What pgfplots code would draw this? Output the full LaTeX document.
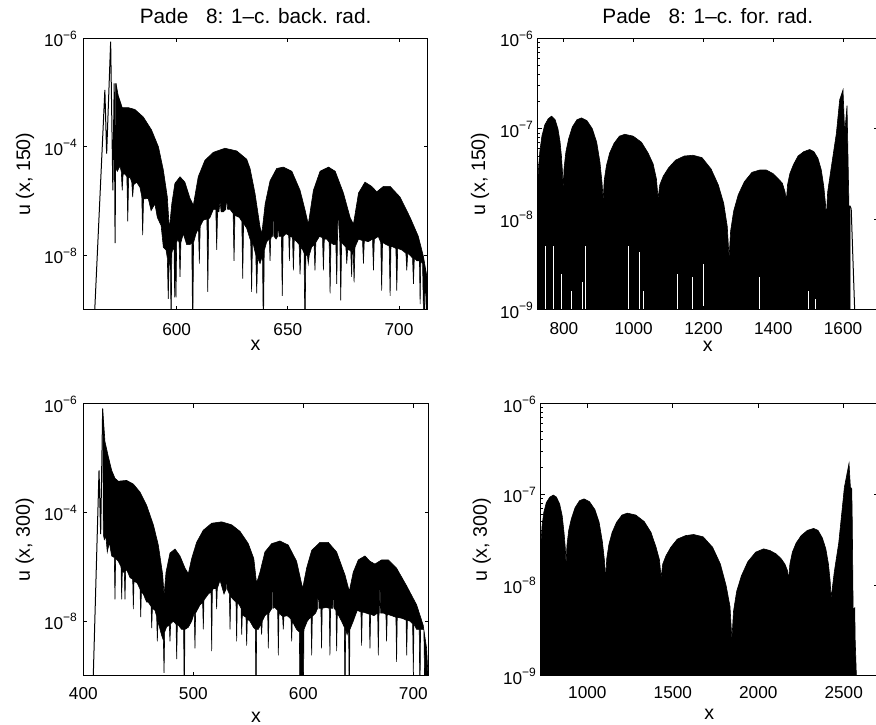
\documentclass[border=0pt]{standalone}
\usepackage{fontspec}
\setmainfont{Liberation Sans}
\usepackage{pgfplots}
\pgfplotsset{compat=1.18}
\newcommand{\fs}{\fontsize{8.6}{10}\selectfont}
\newcommand{\fl}{\fontsize{9.8}{11.5}\selectfont}
\newcommand{\ft}{\fontsize{10.4}{12}\selectfont}
\newcommand{\tpow}[1]{10\textsuperscript{−#1}}
\pgfplotsset{
  every axis/.append style={
    scale only axis, anchor=south west, axis on top,
    tick align=inside, xtick pos=both, ytick pos=both,
    major tick length=2pt, minor tick length=1pt,
    every tick/.style={black, line width=0.4pt},
    axis line style={line width=0.5pt},
    tick label style={font=\fs, inner sep=0pt},
    yticklabel style={anchor=base east, xshift=-2.5pt, yshift=-4.2pt},
    every axis title/.style={at={(0.5,1)}, anchor=base, yshift=7.5pt, font=\ft},
    xlabel={x},
  },
}
\tikzset{
  sig/.style={draw=black, fill=black, line width=0.3pt},
  thinline/.style={black, line width=0.5pt},
}
\begin{document}
\begin{tikzpicture}
\useasboundingbox (0,0) rectangle (438pt,362pt);

% ---------------- top left ----------------
\begin{axis}[ymode=log, at={(41.65pt,207.2pt)}, width=172.3pt, height=135.6pt,
  ymin=1e-10, ymax=1, ytick={1e-8,1e-4,1}, yticklabels={\tpow{8},\tpow{4},\tpow{6}},
  xmin=558, xmax=713, xtick={600,650,700}, xticklabels={600,650,700},
  xticklabel style={anchor=base, yshift=-12.8pt},
  title={Pade\hspace{0.85em}8: 1–c. back. rad.}, ylabel={u (x, 150)},
  every axis y label/.style={at={(axis description cs:-0.169,0.5)}, rotate=90, anchor=center, font=\fl},
  every axis x label/.style={at={(axis description cs:0.5,0)}, anchor=base, yshift=-20.4pt, font=\fl}]
\addplot[thinline] coordinates {(562.6,1e-11) (567.7,1.26e-2) (568.5,5.6e-5) (570.3,0.76) (571.3,2.5e-6) (571.9,2.2e-2) (572.3,2.8e-8) (572.7,2.2e-2)};
\addplot[sig] coordinates {
(572.7,2.2e-2) (573.7,7.9e-3) (574.5,5.0e-3) (575.5,2.8e-3) (578.2,2.8e-3) (581.2,2.4e-3) (585.0,1.26e-3) (588.7,4.2e-4) (591.8,1e-4) (594.0,1.4e-5) (595.8,1.4e-6) (596.7,8.9e-8) (597.8,7.9e-7) (599.2,4.5e-6) (601.5,7.9e-6) (603.7,5.0e-6) (606.0,1.26e-6) (607.5,7.1e-7) (609.7,7.9e-6) (612.7,3.2e-5) (616.5,6.3e-5) (621.7,8.9e-5) (627.0,7.1e-5) (631.5,3.5e-5) (633.0,1.6e-5) (635.2,2.0e-6) (637.5,1.1e-7) (638.3,6.3e-8) (639.8,7.9e-7) (642.0,5.6e-6) (645.0,1.6e-5) (648.0,1.8e-5) (651.8,1.26e-5) (655.5,2.5e-6) (657.8,4.5e-7) (659.2,1.4e-7) (661.5,2.5e-6) (664.5,1.26e-5) (668.3,1.8e-5) (671.3,1.26e-5) (675.0,2.0e-6) (678.0,2.5e-7) (679.5,1.4e-7) (681.8,2.0e-6) (684.7,5.0e-6) (687.7,3.5e-6) (690.0,2.2e-6) (693.0,3.5e-6) (696.0,3.5e-6) (700.5,1.4e-6) (705.0,2.5e-7) (708.7,5.0e-8) (711.0,8.9e-9) (712.8,1.26e-9) (713.5,3e-11)
(713,1e-11) (712.5,1e-11) (711.8,3.2e-9) (711.2,1e-11) (710.6,5e-9) (709.8,6.3e-9) (709.5,1.6e-10) (709.2,6.3e-9) (708,6.3e-9)
(706.9,8e-9) (706.5,8.9e-10) (706.1,8e-9) (705,1e-8) (703.9,1.2e-8) (703.5,2.8e-9) (703.1,1.2e-8) (701.2,1.6e-8)
(699.4,1.8e-8) (699,5e-10) (698.6,1.8e-8) (697.5,2e-8) (696.4,2.2e-8) (696,3.2e-10) (695.6,2.2e-8) (694.2,2.5e-8)
(692.6,3e-8) (692.2,5e-10) (691.8,3e-8) (690.7,5e-8) (688.9,4e-8) (688.5,2.8e-9) (688.1,4e-8) (686.2,3.2e-8)
(684.4,3.5e-8) (684,5e-9) (683.6,3.5e-8) (681.8,4e-8) (680.2,2e-8) (679.8,1e-9) (679.4,1.5e-8) (679.0,1.5e-8) (678.7,1.6e-9) (678.3,1.5e-8)
(677.2,1.6e-8) (676.9,1.6e-8) (676.5,5e-9) (676.1,2e-8) (675,2.5e-8) (674.2,3e-8) (673.8,2.2e-10) (673.4,3e-8)
(673.0,1e-7) (672.7,1.26e-6) (672.4,1e-7) (672,8.9e-10) (671.6,2.5e-8) (670.5,2.5e-8)
(669.4,3e-8) (669,4e-10) (668.6,3e-8) (667.5,4e-8) (666.4,4e-8) (666,2.8e-9) (665.6,4.5e-8) (664.2,5e-8)
(662.6,3e-8) (662.2,2.8e-9) (661.8,2.5e-8) (660.7,2e-8) (659.6,1e-8) (659.2,5e-9) (658.8,1e-8) (658.1,1e-8) (657.7,1e-11) (657.3,1.2e-8)
(656.7,1.6e-8) (655.9,2e-8) (655.5,2e-9) (655.1,2.5e-8) (654,3.2e-8) (652.9,4e-8) (652.5,2.8e-9) (652.1,4.5e-8)
(651.3,5e-8) (651.0,5e-8) (650.7,6.3e-9) (650.4,5.5e-8) (649.2,6.3e-8) (647.9,5e-8) (647.5,3.2e-10) (647.1,5e-8)
(646.0,5e-8) (645.7,4e-7) (645.4,5e-8) (644.7,4e-8) (643.8,5e-8) (643.5,2e-6) (643.2,5e-8) (642.7,5e-8)
(642.3,4e-8) (642,6.3e-9) (641.7,4e-8) (640.5,3.2e-8) (639.4,1.5e-8) (639,1e-11) (638.6,1e-8) (637.5,5e-9)
(636.4,8e-9) (636,4e-10) (635.6,1e-8) (634.5,2.5e-8) (634.1,3e-8) (633.7,4.5e-10) (633.3,3.5e-8) (633,4e-8)
(631.5,1e-7) (630.1,1.5e-7) (629.7,1.4e-9) (629.3,1.8e-7) (628.2,2.5e-7) (626.2,3e-7) (625.8,6.3e-9) (625.4,3.5e-7)
(624,5e-7) (622.9,5e-7) (622.5,1.6e-6) (622.1,5e-7) (621,4e-7) (620,4e-7) (619.5,1e-6) (619,4e-7)
(618.4,4e-7) (618,1.6e-8) (617.6,5e-7) (616.5,5e-7) (615,2.5e-7) (614.4,2.2e-7) (614,4.5e-10) (613.6,2.2e-7)
(612,2e-7) (610.6,1.2e-7) (610.2,5e-9) (609.8,1e-7) (608.7,6.3e-8) (607.6,3e-8) (607.2,1e-11) (606.8,3e-8)
(606,2.5e-8) (604.5,2.5e-8) (603,6.3e-8) (601.9,3e-8) (601.5,1.6e-9) (601.1,3e-8) (600.5,4e-8)
(600.0,3e-8) (599.7,2.8e-10) (599.4,2.5e-8) (599.1,2.8e-10) (598.8,2e-8) (598.2,1.6e-8) (597.8,1.2e-8) (597.5,1e-11) (597.2,8e-9)
(596.6,4e-9) (596.2,2.5e-10) (595.8,8e-9) (595.2,1.6e-8) (594,2e-8) (593,1.26e-7) (591.3,2.5e-7) (590.2,7.9e-7)
(588.5,4.5e-7) (587.2,1.26e-6) (585.1,1.2e-6) (584.7,5.6e-8) (584.3,1.5e-6) (583.5,3.2e-6) (582,5e-6)
(580.6,4e-6) (580.2,1.4e-6) (579.8,5e-6) (579,7.9e-6) (578.4,7e-6) (578,1.8e-7) (577.6,8e-6)
(576.7,1e-5) (575.9,1e-5) (575.5,2.5e-6) (575.1,1.2e-5) (574.5,2e-5) (573.3,1.26e-5) (572.7,1.6e-5)
} -- cycle;
\end{axis}

% ---------------- top right ----------------
\begin{axis}[ymode=log, at={(268.85pt,207.2pt)}, width=170.1pt, height=135.6pt,
  ymin=1e-9, ymax=1e-6, ytick={1e-9,1e-8,1e-7,1e-6},
  yticklabels={\tpow{9},\tpow{8},\tpow{7},\tpow{6}},
  minor ytick={2e-9,3e-9,4e-9,5e-9,6e-9,7e-9,8e-9,9e-9,2e-8,3e-8,4e-8,5e-8,6e-8,7e-8,8e-8,9e-8,2e-7,3e-7,4e-7,5e-7,6e-7,7e-7,8e-7,9e-7},
  yticklabel style={xshift=0.8pt},
  xmin=725, xmax=1700, xtick={800,1000,1200,1400,1600}, xticklabels={800,1000,1200,1400,1600},
  xticklabel style={anchor=base, yshift=-12.5pt},
  title={Pade\hspace{0.85em}8: 1–c. for. rad.}, ylabel={u (x, 150)},
  every axis y label/.style={at={(axis description cs:-0.1696,0.5)}, rotate=90, anchor=center, font=\fl},
  every axis x label/.style={at={(axis description cs:0.5,0)}, anchor=base, yshift=-20.8pt, font=\fl}]
\addplot[sig] coordinates {
(725,1e-11) (725,2.2e-8) (727,3.5e-8) (731,5.6e-8) (737,8.3e-8) (745,1.1e-7) (755,1.29e-7) (764.7,1.38e-7) (775,1.26e-7) (783,1e-7) (789,7.2e-8) (793,5.0e-8) (796,3.3e-8) (798,2.1e-8) (800.6,3.7e-8) (805.9,5.6e-8) (813.8,7.8e-8) (824.3,1.05e-7) (837.4,1.26e-7) (850.6,1.32e-7) (866.1,1.23e-7) (881.6,1e-7) (894,7.1e-8) (903.3,4.3e-8) (909.5,2.5e-8) (912.6,1.6e-8) (915.7,2.7e-8) (921.9,3.9e-8) (931.2,5.4e-8) (943.7,6.9e-8) (959.2,8.3e-8) (974.7,8.7e-8) (998.5,8.3e-8) (1022.4,7.1e-8) (1041.4,5.4e-8) (1055.7,4.1e-8) (1065.2,2.8e-8) (1070,1.7e-8) (1075,2.4e-8) (1085,3.0e-8) (1100,3.7e-8) (1120,4.5e-8) (1145,5.0e-8) (1170,5.1e-8) (1195.9,4.8e-8) (1221.8,3.6e-8) (1242.5,2.4e-8) (1258,1.5e-8) (1268.3,8.3e-9) (1273.5,3.7e-9) (1277.9,7.4e-9) (1286.6,1.23e-8) (1299.7,1.86e-8) (1317.3,2.6e-8) (1339.1,3.3e-8) (1361,3.5e-8) (1380.2,3.5e-8) (1399.4,3.2e-8) (1414.7,2.8e-8) (1426.2,2.5e-8) (1433.9,2.0e-8) (1437.7,1.6e-8) (1441,2.4e-8) (1447.7,3.2e-8) (1457.7,4.0e-8) (1471.1,5.0e-8) (1487.8,5.6e-8) (1504.5,5.9e-8) (1516.4,5.6e-8) (1528.3,4.7e-8) (1537.8,3.5e-8) (1544.9,2.3e-8) (1549.6,1.5e-8) (1552,1e-8) (1556,2e-8) (1566.6,3.8e-8) (1581,8.9e-8) (1590.5,2.1e-7) (1600,2.7e-7) (1604.8,8.9e-8) (1611.5,1.8e-7) (1617,1.4e-8) (1620,1.4e-8) (1621,1e-11)
} -- cycle;
\addplot[thinline] coordinates {(1620,1.4e-8) (1623.5,1.3e-8) (1633.4,1e-9) (1636,1e-11)};
\addplot[white, line width=0.5pt, unbounded coords=jump] coordinates {
(747.5,1e-11) (747.5,5.0e-9) (748,nan) (769.5,1e-11) (769.5,5.0e-9) (770,nan) (793,1e-11) (793,2.5e-9) (794,nan) (822,1e-11) (822,1.6e-9) (823,nan) (852.5,1e-11) (852.5,2.0e-9) (853,nan) (862,1e-11) (862,5.0e-9) (863,nan) (986,1e-11) (986,5.0e-9) (987,nan) (1017.7,1e-11) (1017.7,4.3e-9) (1018,nan) (1029,1e-11) (1029,1.6e-9) (1030,nan) (1125.5,1e-11) (1125.5,2.5e-9) (1126,nan) (1170,1e-11) (1170,2.3e-9) (1171,nan) (1199,1e-11) (1199,3.2e-9) (1200,nan) (1361,1e-11) (1361,2.3e-9) (1362,nan) (1499.8,1e-11) (1499.8,1.6e-9) (1500,nan) (1521.7,1e-11) (1521.7,1.3e-9)
};
\end{axis}

% ---------------- bottom left ----------------
\begin{axis}[ymode=log, at={(41.65pt,24.2pt)}, width=172.7pt, height=136pt,
  ymin=1e-10, ymax=1, ytick={1e-8,1e-4,1}, yticklabels={\tpow{8},\tpow{4},\tpow{6}},
  xmin=400, xmax=714, xtick={400,500,600,700}, xticklabels={400,500,600,700},
  xticklabel style={anchor=base, yshift=-11.7pt},
  ylabel={u (x, 300)},
  every axis y label/.style={at={(axis description cs:-0.169,0.5)}, rotate=90, anchor=center, font=\fl},
  every axis x label/.style={at={(axis description cs:0.5,0)}, anchor=base, yshift=-23.2pt, font=\fl}]
\addplot[thinline] coordinates {(408.4,1e-11) (414.3,3.5e-3) (415.8,1.6e-5) (417.6,0.66)};
\addplot[sig] coordinates {
(417.6,0.66) (419.7,4.0e-2) (422.8,1.1e-2) (425.8,3.5e-3) (428.8,1.8e-3) (431.8,1.4e-3) (439.4,1.5e-3) (445.5,1.1e-3) (451.5,5.6e-4) (457.6,1.8e-4) (463.7,3.5e-5) (468.2,6.3e-6) (472.2,5.0e-7) (473.4,8.9e-8) (475.2,6.3e-7) (478.8,3.2e-6) (483.4,4.5e-6) (487.9,2.5e-6) (492.5,8.9e-7) (495.5,5.6e-7) (498.5,2.0e-6) (503,7.9e-6) (509,2.2e-5) (516.7,4.0e-5) (525.8,4.5e-5) (534.9,3.5e-5) (542.5,2.0e-5) (550,7.1e-6) (555,2.0e-6) (557.5,2.5e-7) (560.6,6.3e-7) (565.1,3.5e-6) (571.2,7.1e-6) (578.8,8.9e-6) (586.3,6.3e-6) (593.9,1.6e-6) (599.4,1.6e-7) (603,8.9e-7) (607.6,4.0e-6) (615.1,7.9e-6) (622.7,7.9e-6) (630.3,3.5e-6) (637.9,5.0e-7) (641.8,1.26e-7) (645.4,6.3e-7) (650,1.8e-6) (656,2.5e-6) (660.6,1.6e-6) (665.1,1.26e-6) (671.2,1.8e-6) (677.3,1.8e-6) (684.8,8.9e-7) (693.9,2.0e-7) (703,4.0e-8) (709,7.1e-9) (712.1,1e-9) (714,3e-11)
(714,1e-11) (712.1,1e-11) (710.6,1e-11) (709.6,5e-9)
(708.5,5e-9) (706.6,5e-9) (706,1e-11) (705.4,5e-9) (703,5e-9)
(700.6,8e-9) (700,1.26e-10) (699.4,8e-9) (697,1e-8)
(694.6,1.1e-8) (694,5.6e-10) (693.4,1.1e-8) (690.3,1.26e-8)
(685.4,1.4e-8) (684.8,3.2e-10) (684.2,1.4e-8) (680.3,1.6e-8)
(676.3,1.8e-8) (675.7,1.8e-9) (675.1,1.8e-8) (672.7,2e-8)
(670.3,2e-8) (669.7,4e-7) (669.1,2e-8) (668.8,2e-8) (668.2,5.6e-10) (667.6,2e-8) (664.2,1.6e-8)
(661.2,1.8e-8) (660.6,1e-9) (660,1.8e-8) (657,2e-8)
(653.6,2.2e-8) (653,1.26e-9) (652.4,2.2e-8) (649,2.5e-8) (645.4,1e-8)
(642.4,5e-9) (641.8,1e-11) (641.2,5e-9) (639.8,3.2e-9) (638.5,5e-9) (637.9,1e-11) (637.3,6e-9) (634.8,1e-8)
(630.9,2e-8) (630.3,7.9e-10) (629.7,2.5e-8) (627.9,3e-8) (627.3,3.2e-7) (626.7,3e-8) (624.8,3e-8) (624.2,5.6e-10) (623.6,3e-8) (620.6,3.2e-8)
(617.2,3e-8) (616.6,1e-9) (616,3e-8) (614.2,3e-8) (613.6,1.26e-6) (613,3e-8) (611.2,2e-8)
(608.2,1.5e-8) (607.6,5.6e-10) (607,1.5e-8) (603.6,1e-8) (600.6,5e-9) (600,1e-11) (597,1e-11) (596.4,4e-9) (593.9,5e-9)
(590,1e-8) (589.4,1.8e-9) (588.8,1.2e-8) (585.4,1.6e-8) (582.4,1.5e-8) (581.8,5e-9) (581.2,1.5e-8)
(577.9,2e-8) (577.3,5.6e-10) (576.7,2.5e-8) (574.2,3.2e-8) (572.7,3e-8) (572.1,1.6e-6) (571.5,3e-8) (570.3,2.5e-8)
(568.8,2e-8) (568.2,1e-9) (567.6,2e-8) (565.1,1.6e-8) (562.7,1e-8) (562.1,3.2e-9) (561.5,8e-9) (559.1,5e-9) (557.6,5e-9) (557,1e-11) (556.4,5e-9) (554.6,6e-9)
(551.5,1e-8) (549.1,1.2e-8) (548.5,1.26e-9) (547.9,1.4e-8) (545.5,1.6e-8) (544.6,2e-8) (544,3.2e-9) (543.4,3e-8) (541.8,4e-8) (540,5e-8) (539.4,1.8e-9) (538.8,5e-8) (536.4,6.3e-8)
(534,8e-8) (533.4,5e-9) (532.8,1e-7) (530.9,1.5e-7) (530.3,5e-7) (529.7,1.5e-7) (527.9,1e-7) (524.3,3.2e-7)
(521.8,1.6e-7) (521.2,2.8e-8) (520.6,1.6e-7) (518.2,1.6e-7) (517.3,1.3e-7) (516.7,7.9e-10) (516.1,1.2e-7) (513.7,1e-7)
(509.7,6e-8) (509.1,5e-9) (508.5,5e-8) (506.1,4e-8) (502.1,2e-8) (501.5,1e-9) (500.9,2e-8) (498.5,1e-8) (495.5,6e-9)
(492.4,5e-9) (491.8,1e-11) (491.2,5e-9) (489.4,5e-9) (485.5,8e-9) (484.9,4e-10) (484.3,8e-9) (481.8,1e-8)
(479.4,8e-9) (478.8,1.8e-9) (478.2,7e-9) (475.8,6.3e-9) (474,4e-9) (473.4,1.26e-10) (472.8,2e-9) (471.2,3e-9)
(467.9,1e-8) (467.3,1.8e-9) (466.7,1.5e-8) (465.2,2.5e-8) (462.8,3e-8) (462.2,5.6e-9) (461.6,3.5e-8) (459.1,5e-8) (457.6,5e-8) (454.6,1e-7)
(452.8,1.2e-7) (452.2,1.4e-8) (451.6,1.5e-7) (449.1,2.5e-7) (446.1,3e-7) (445.5,2.8e-8) (444.9,3.5e-7) (442.5,4e-7) (439.4,7.9e-7)
(438.5,7e-7) (437.9,6.3e-8) (437.3,6.5e-7) (436.4,6.3e-7) (435.5,8e-7) (434.9,6.3e-8) (434.3,1e-6) (431.8,1.6e-6)
(429.4,2e-6) (428.8,6.3e-8) (428.2,2.2e-6) (425.8,2.5e-6) (423.7,7.9e-6) (421.8,3.5e-6) (420.6,1.26e-5) (419.1,1e-5) (418.2,1.6e-5)
} -- cycle;
\end{axis}

% ---------------- bottom right ----------------
\begin{axis}[ymode=log, at={(270.35pt,24.2pt)}, width=168.6pt, height=136pt,
  ymin=1e-9, ymax=1e-6, ytick={1e-9,1e-8,1e-7,1e-6},
  yticklabels={\tpow{9},\tpow{8},\tpow{7},\tpow{6}},
  minor ytick={2e-9,3e-9,4e-9,5e-9,6e-9,7e-9,8e-9,9e-9,2e-8,3e-8,4e-8,5e-8,6e-8,7e-8,8e-8,9e-8,2e-7,3e-7,4e-7,5e-7,6e-7,7e-7,8e-7,9e-7},
  yticklabel style={xshift=0.8pt},
  xmin=727, xmax=2700, xtick={1000,1500,2000,2500}, xticklabels={1000,1500,2000,2500},
  xticklabel style={anchor=base, yshift=-11.2pt},
  ylabel={u (x, 300)},
  every axis y label/.style={at={(axis description cs:-0.175,0.5)}, rotate=90, anchor=center, font=\fl},
  every axis x label/.style={at={(axis description cs:0.5,0)}, anchor=base, yshift=-22pt, font=\fl}]
\addplot[sig] coordinates {
(725,1e-11) (725,1.9e-8) (728,2.8e-8) (735,4.5e-8) (745,6.3e-8) (760,8.1e-8) (780,9.3e-8) (800.8,9.8e-8) (819.3,9.3e-8) (837.9,7.8e-8) (852.7,5.8e-8) (863.9,3.7e-8) (871.3,2.5e-8) (875,1.6e-8) (880.3,2.7e-8) (890.8,4.0e-8) (906.6,5.4e-8) (927.8,7.1e-8) (954.1,8.5e-8) (980.5,8.9e-8) (1012.1,8.3e-8) (1043.8,6.8e-8) (1068.9,4.9e-8) (1087.9,3.0e-8) (1100.7,1.8e-8) (1107,1.15e-8) (1113.4,1.95e-8) (1126,2.8e-8) (1145,3.8e-8) (1170.5,4.9e-8) (1202.3,5.9e-8) (1234,6.2e-8) (1283.4,5.9e-8) (1332.8,5.0e-8) (1372.3,3.8e-8) (1402,2.6e-8) (1421.7,1.9e-8) (1431.6,1.2e-8) (1441,1.7e-8) (1460,2.1e-8) (1488,2.6e-8) (1526,3.2e-8) (1574,3.5e-8) (1621,3.6e-8) (1677,3.4e-8) (1733,2.6e-8) (1778.3,1.7e-8) (1812,9.8e-9) (1834.5,5.8e-9) (1845.7,2.5e-9) (1855,5.1e-9) (1873.5,8.5e-9) (1901.3,1.26e-8) (1938.4,1.8e-8) (1984.7,2.3e-8) (2031,2.5e-8) (2067.7,2.4e-8) (2104.4,2.2e-8) (2133.7,1.95e-8) (2155.7,1.7e-8) (2170.4,1.45e-8) (2177.7,1.15e-8) (2185,1.7e-8) (2199.6,2.3e-8) (2221.6,2.9e-8) (2250.9,3.5e-8) (2287.4,4.0e-8) (2324,4.2e-8) (2349.5,4.0e-8) (2374.9,3.3e-8) (2395.3,2.5e-8) (2410.5,1.7e-8) (2420.7,1.1e-8) (2425.8,7.1e-9) (2445,1.4e-8) (2470.7,2.9e-8) (2504,1.2e-7) (2531,2.2e-7) (2539,1.2e-7) (2547,1.15e-7) (2550,5e-8) (2555,5.4e-9) (2564.5,5.6e-9) (2567,2.5e-9) (2574,1e-9) (2576,1e-11)
} -- cycle;
\end{axis}
\end{tikzpicture}
\end{document}
